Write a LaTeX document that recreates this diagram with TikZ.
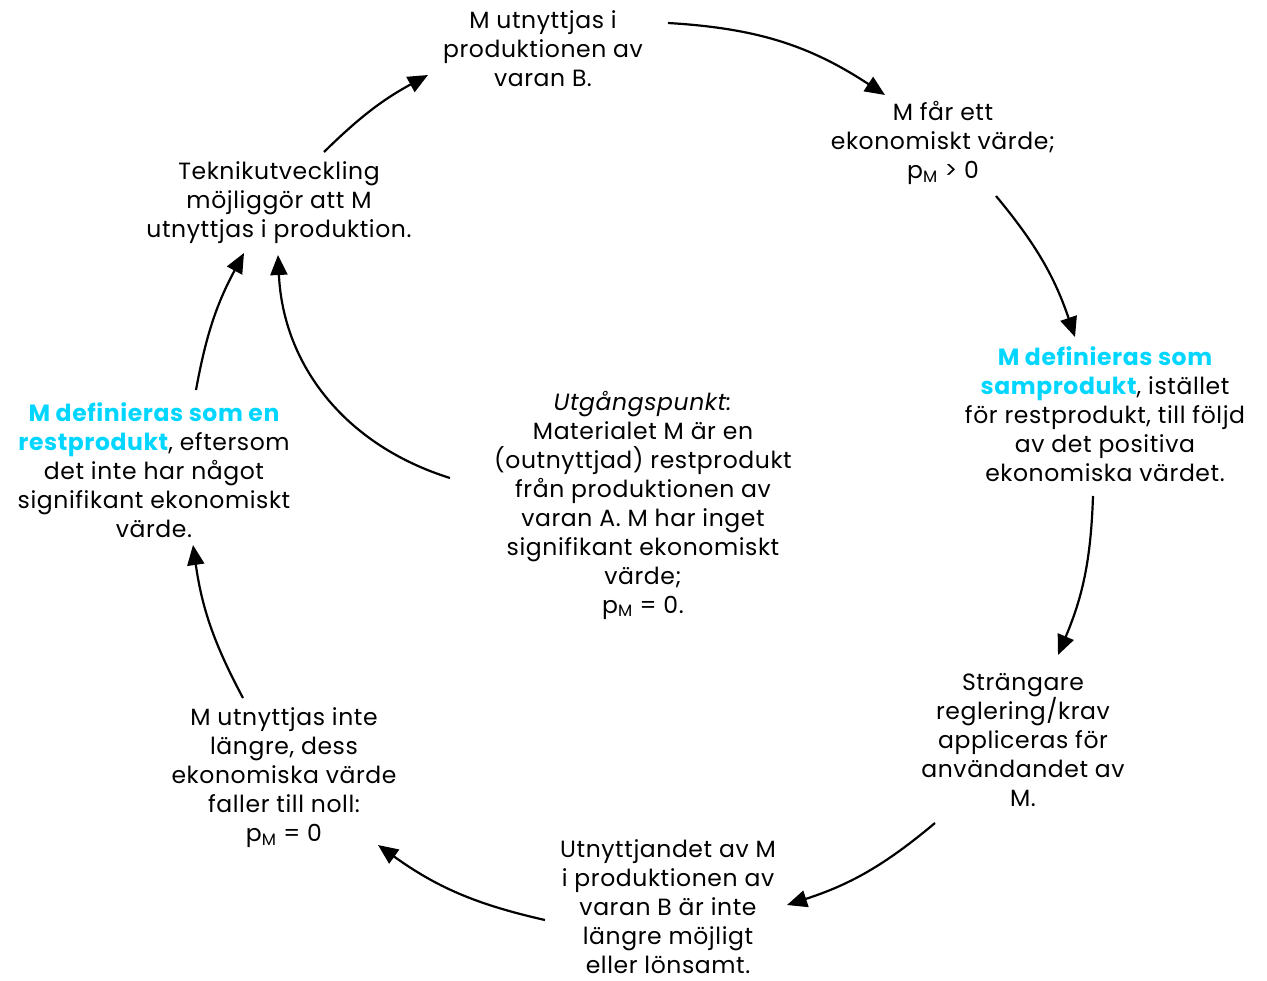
\documentclass[tikz,border=0pt]{standalone}
\usepackage{fontspec}
\setmainfont{Poppins}[LetterSpace=2.5]
\usetikzlibrary{arrows.meta}
\definecolor{cy}{RGB}{0,214,255}
\newcommand{\hlc}[1]{\textcolor{cy}{\bfseries #1}}
\begin{document}
\begin{tikzpicture}[x=1pt,y=-1pt,
  lbl/.style={align=center,inner sep=0pt,font=\fontsize{23.5}{29}\selectfont},
  arr/.style={line width=2.2pt,-{Triangle[length=20pt,width=17pt]}}]
\useasboundingbox (0,0) rectangle (1267,981);
\node[lbl] (top) at (543,49) {M utnyttjas i\\produktionen av\\varan B.};
\node[lbl] (mfar) at (943,143) {M får ett\\ekonomiskt värde;\\p\textsubscript{M} > 0};
\node[lbl] (samp) at (1105,414) {\hlc{M definieras som}\\\hlc{samprodukt}, istället\\för restprodukt, till följd\\av det positiva\\ekonomiska värdet.};
\node[lbl] (strang) at (1023,740) {Strängare\\reglering/krav\\appliceras för\\användandet av\\M.};
\node[lbl] (utn) at (668,907) {Utnyttjandet av M\\i produktionen av\\varan B är inte\\längre möjligt\\eller lönsamt.};
\node[lbl] (inte) at (284,778) {M utnyttjas inte\\längre, dess\\ekonomiska värde\\faller till noll:\\p\textsubscript{M} = 0};
\node[lbl] (rest) at (154,470) {\hlc{M definieras som en}\\\hlc{restprodukt}, eftersom\\det inte har något\\signifikant ekonomiskt\\värde.};
\node[lbl] (tek) at (279,203) {Teknikutveckling\\möjliggör att M\\utnyttjas i produktion.};
\node[lbl] (start) at (643,505) {\textit{Utgångspunkt:}\\Materialet M är en\\(outnyttjad) restprodukt\\från produktionen av\\varan A. M har inget\\signifikant ekonomiskt\\värde;\\p\textsubscript{M} = 0.};

\coordinate (a1s) at (668,23);  \coordinate (a1e) at (885,95);
\coordinate (a2s) at (996,196); \coordinate (a2e) at (1075,337);
\coordinate (a3s) at (1093,496);\coordinate (a3e) at (1058,655);
\coordinate (a4s) at (935,823); \coordinate (a4e) at (787,905);
\coordinate (a5s) at (545,920); \coordinate (a5e) at (378,845);
\coordinate (a6s) at (243,698); \coordinate (a6e) at (193,545);
\coordinate (a7s) at (196,390); \coordinate (a7e) at (244,253);
\coordinate (a8s) at (450,478); \coordinate (a8e) at (278,255);
\coordinate (a9s) at (324,152); \coordinate (a9e) at (428,75);

\draw[arr] (a1s) to[bend left=15] (a1e);
\draw[arr] (a2s) to[bend left=10.5] (a2e);
\draw[arr] (a3s) to[bend left=10.5] (a3e);
\draw[arr] (a4s) to[bend left=11] (a4e);
\draw[arr] (a5s) to[bend left=11.5] (a5e);
\draw[arr] (a6s) to[bend left=10] (a6e);
\draw[arr] (a7s) to[bend left=9] (a7e);
\draw[arr] (a8s) to[bend left=35] (a8e);
\draw[arr] (a9s) to[bend left=8] (a9e);
\end{tikzpicture}
\end{document}
